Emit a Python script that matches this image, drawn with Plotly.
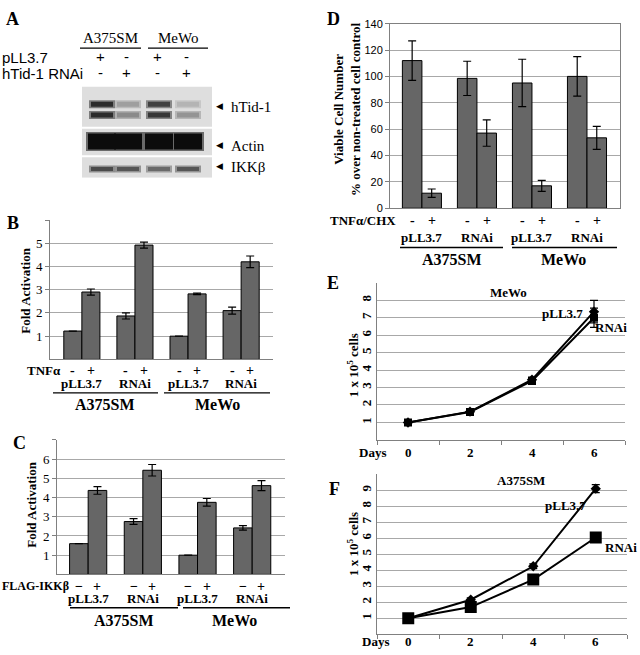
import plotly.graph_objects as go

# =============================================================================
# DATA
# =============================================================================
cell_lines = ["A375SM", "MeWo"]
treatments = ["pLL3.7", "RNAi", "pLL3.7", "RNAi"]
groups = [1, 2, 3, 4]

# panel A: band intensity per lane (0 = none, 1 = black)
blot_lanes = [1, 2, 3, 4]
htid_upper = [0.85, 0.3, 0.75, 0.2]
htid_lower = [0.85, 0.4, 0.8, 0.35]
actin = [1.0, 1.0, 1.0, 1.0]
ikkb = [0.7, 0.65, 0.55, 0.65]
row_pll = ["+", "-", "+", "-"]
row_rnai = ["-", "+", "-", "+"]

# panel B: TNFa fold activation
b_minus = [1.22, 1.87, 1.0, 2.1]
b_minus_err = [0, 0.13, 0, 0.15]
b_plus = [2.9, 4.92, 2.82, 4.2]
b_plus_err = [0.13, 0.13, 0.03, 0.25]

# panel C: FLAG-IKKb fold activation
c_minus = [1.6, 2.75, 1.0, 2.42]
c_minus_err = [0, 0.15, 0, 0.12]
c_plus = [4.37, 5.42, 3.75, 4.62]
c_plus_err = [0.2, 0.3, 0.2, 0.26]

# panel D: viable cells after TNFa/CHX
d_minus = [112, 98.5, 95, 100]
d_minus_err = [15, 13, 18, 15]
d_plus = [11.4, 57, 17, 53.4]
d_plus_err = [3.2, 10, 4.2, 8.7]

# panels E, F: growth curves
days = [0, 2, 4, 6]
e_pll = [1.0, 1.62, 3.45, 7.35]
e_pll_err = [0, 0.12, 0.15, 0.65]
e_rnai = [1.0, 1.6, 3.38, 7.0]
e_rnai_err = [0, 0.1, 0.12, 0.55]
f_pll = [1.0, 2.16, 4.25, 9.1]
f_pll_err = [0, 0.12, 0.15, 0.25]
f_rnai = [1.0, 1.7, 3.42, 6.05]
f_rnai_err = [0, 0.1, 0.12, 0.15]

# =============================================================================
# HELPERS
# =============================================================================
W, H = 640, 655
SERIF = "Liberation Serif"
SANS = "Liberation Sans"
BAR = "#666666"
GRID = "#a8a8a8"


def X(p):
    return p / W


def Y(p):
    return 1 - p / H


def dom_x(a, b):
    return [X(a), X(b)]


def dom_y(top, bottom):
    return [Y(bottom), Y(top)]


annotations = []
shapes = []


def text(t, x, y, size=13, bold=True, family=SERIF, anchor="center", angle=0, xref="paper"):
    annotations.append(dict(
        text=f"<b>{t}</b>" if bold else t,
        x=x if xref != "paper" else X(x), y=Y(y), xref=xref, yref="paper",
        xanchor=anchor, yanchor="middle", showarrow=False, textangle=angle,
        font=dict(family=family, size=size, color="black")))


def hline(x0, x1, y, width=1.3):
    shapes.append(dict(type="line", xref="paper", yref="paper",
                       x0=X(x0), x1=X(x1), y0=Y(y), y1=Y(y),
                       line=dict(color="black", width=width)))


fig = go.Figure()

# =============================================================================
# PANEL A: western blot
# =============================================================================
lane_px = [102, 128, 159, 188]
blot_bg = [(82, 123), (125, 152), (154, 175)]
for top, bottom in blot_bg:
    shapes.append(dict(type="rect", xref="x", yref="y", x0=82, x1=212, y0=top, y1=bottom,
                       fillcolor="#dedede", line=dict(width=0), layer="below"))


def gray(i):
    v = int(round(222 - 210 * i))
    return f"rgb({v},{v},{v})"


bands = [(htid_upper, 100, 5, 13), (htid_lower, 111, 5, 13), (actin, 138, 16, 16), (ikkb, 166, 4, 13)]
for values, yb, thick, half in bands:
    # soft halo first, then the dense core of every lane
    for lane, v in zip(blot_lanes, values):
        cx = lane_px[lane - 1]
        fig.add_trace(go.Scatter(x=[cx - half, cx + half], y=[yb, yb], mode="lines",
                                 line=dict(color=gray(v * 0.55), width=thick + 3),
                                 xaxis="x", yaxis="y", hoverinfo="skip"))
    for lane, v in zip(blot_lanes, values):
        cx = lane_px[lane - 1]
        fig.add_trace(go.Scatter(x=[cx - half + 2, cx + half - 2], y=[yb, yb], mode="lines",
                                 line=dict(color=gray(v), width=thick),
                                 xaxis="x", yaxis="y", hoverinfo="skip"))

text("A375SM", 110, 33, size=15, bold=False)
text("MeWo", 178, 33, size=15, bold=False)
hline(80, 141, 43)
hline(148, 208, 43)
text("pLL3.7", 0, 52, size=15, bold=False, family=SANS, anchor="left")
text("hTid-1 RNAi", 0, 69, size=15, bold=False, family=SANS, anchor="left")
for cx, s1, s2 in zip(lane_px, row_pll, row_rnai):
    text(s1, cx - 2, 51, size=15, bold=False, family=SANS)
    text(s2, cx - 2, 68, size=15, bold=False, family=SANS)
for lab, yy in [("hTid-1", 103), ("Actin", 143), ("IKKβ", 164)]:
    text("◀", 219, yy - 1, size=9, bold=False, family="DejaVu Sans")
    text(lab, 229, yy, size=15, bold=False, anchor="left")

# =============================================================================
# PANELS B, C, D: bar charts
# =============================================================================
def bar_panel(n, minus, minus_err, plus, plus_err, w):
    for vals, errs, off in [(minus, minus_err, -w), (plus, plus_err, 0)]:
        fig.add_trace(go.Bar(
            x=groups, y=vals, width=w, offset=off,
            marker=dict(color=BAR, line=dict(color="black", width=1)),
            error_y=dict(type="data", array=errs, color="black", thickness=1.2, width=4),
            xaxis=f"x{n}", yaxis=f"y{n}", hoverinfo="skip"))


bar_panel(2, b_minus, b_minus_err, b_plus, b_plus_err, 0.34)
bar_panel(3, c_minus, c_minus_err, c_plus, c_plus_err, 0.34)
bar_panel(4, d_minus, d_minus_err, d_plus, d_plus_err, 0.355)


def bar_labels(n, w, sign_y, treat_y, line_y, cell_y, minus_sym, lines, cell_x):
    for g, t in zip(groups, treatments):
        text(minus_sym, g - w / 2, sign_y, size=14, xref=f"x{n}")
        text("+", g + w / 2, sign_y, size=14, xref=f"x{n}")
        text(t, g, treat_y, size=13, xref=f"x{n}")
    for x0, x1 in lines:
        hline(x0, x1, line_y)
    for c, cx in zip(cell_lines, cell_x):
        text(c, cx, cell_y, size=16)


bar_labels(2, 0.34, 371, 385, 394, 406, "-", [(53, 158), (164, 270)], [105, 217])
text("TNFα", 25, 371, size=13, anchor="left")
bar_labels(3, 0.34, 591, 604, 613, 626, "−", [(70, 178), (183, 290)], [124, 234])
text("FLAG-IKKβ", 0, 591, size=12, anchor="left")
bar_labels(4, 0.355, 218, 236, 246, 258, "-", [(400, 503), (512, 617)], [452, 563])
text("TNFα/CHX", 328, 218, size=13, anchor="left")

text("Fold Activation", 26, 290, size=13, angle=-90)
text("Fold Activation", 32, 508, size=13, angle=-90)
text("Viable Cell Number<br>% over non-treated cell control", 347, 105, size=13, angle=-90)

# =============================================================================
# PANELS E, F: growth curves
# =============================================================================
def growth(n, pll, pll_err, rnai, rnai_err, sq, dia, label_y, days_x):
    fig.add_trace(go.Scatter(
        x=days, y=rnai, mode="lines+markers",
        line=dict(color="black", width=2), marker=dict(symbol="square", size=sq, color="black"),
        error_y=dict(type="data", array=rnai_err, color="black", thickness=1.2, width=4),
        xaxis=f"x{n}", yaxis=f"y{n}", hoverinfo="skip"))
    fig.add_trace(go.Scatter(
        x=days, y=pll, mode="lines+markers",
        line=dict(color="black", width=2), marker=dict(symbol="diamond", size=dia, color="black"),
        error_y=dict(type="data", array=pll_err, color="black", thickness=1.2, width=4),
        xaxis=f"x{n}", yaxis=f"y{n}", hoverinfo="skip"))
    for d in days:
        text(str(d), d, label_y, size=13, xref=f"x{n}")
    text("Days", days_x, label_y, size=13)


growth(5, e_pll, e_pll_err, e_rnai, e_rnai_err, 8, 8, 455, 372)
growth(6, f_pll, f_pll_err, f_rnai, f_rnai_err, 12, 8, 647, 375)

text("MeWo", 508, 292, size=13)
text("pLL3.7", 562, 313, size=13)
text("RNAi", 611, 328, size=13)
text("A375SM", 521, 483, size=13)
text("pLL3.7", 565, 509, size=13)
text("RNAi", 621, 552, size=13)
text("1 x 10<sup>5</sup> cells", 353, 366, size=13, angle=-90)
text("1 x 10<sup>5</sup> cells", 353, 548, size=13, angle=-90)

# panel letters
for lab, lx, ly in [("A", 12, 13), ("B", 13, 221), ("C", 19, 445),
                    ("D", 333, 13), ("E", 333, 282), ("F", 334, 492)]:
    text(lab, lx, ly, size=18)

# =============================================================================
# LAYOUT
# =============================================================================
def bar_y(top, bottom, rng, vals, labels, family, size, mirror=False):
    return dict(domain=dom_y(top, bottom), range=rng, tickvals=vals, ticktext=labels,
                showgrid=True, gridcolor=GRID, gridwidth=1, zeroline=False,
                showline=True, linecolor="#808080", mirror=mirror,
                ticks="outside", ticklen=4, tickcolor="#808080",
                tickfont=dict(family=family, size=size, color="black"))


def bar_x(n, a, b, rng, mirror=False):
    return dict(domain=dom_x(a, b), range=rng, showline=True, linecolor="#808080",
                mirror=mirror, showgrid=False, zeroline=False, showticklabels=False,
                ticks="", anchor=f"y{n}")


def curve_y(top, bottom, rng, vals, labels):
    return dict(domain=dom_y(top, bottom), range=rng, tickvals=vals, ticktext=labels,
                tickangle=-90, showgrid=True, gridcolor=GRID, gridwidth=1, zeroline=False,
                showline=True, linecolor="#808080", ticks="",
                tickfont=dict(family=SERIF, size=13, color="black", weight="bold"))


def curve_x(n, a, b):
    return dict(domain=dom_x(a, b), range=[-1, 7], tickvals=[-1, 1, 3, 5, 7],
                showticklabels=False, ticks="outside", ticklen=4, tickcolor="#808080",
                showline=True, linecolor="#808080", showgrid=False, zeroline=False,
                anchor=f"y{n}")


fig.update_layout(
    width=W, height=H, margin=dict(l=0, r=0, t=0, b=0),
    paper_bgcolor="white", plot_bgcolor="white", showlegend=False,
    xaxis=dict(domain=dom_x(82, 212), range=[82, 212], visible=False, anchor="y"),
    yaxis=dict(domain=dom_y(82, 175), range=[175, 82], visible=False, anchor="x"),
    xaxis2=bar_x(2, 50, 273, [0.4, 4.6]),
    yaxis2=dict(bar_y(218, 360, [0, 6], [1, 2, 3, 4, 5, 6], ["1", "2", "3", "4", "5", ""], SERIF, 13), anchor="x2"),
    xaxis3=bar_x(3, 57, 285, [0.43, 4.6]),
    yaxis3=dict(bar_y(442, 579, [0, 7], [1, 2, 3, 4, 5, 6, 7], ["1", "2", "3", "4", "5", "6", ""], SERIF, 13), anchor="x3"),
    xaxis4=bar_x(4, 390, 620, [0.42, 4.6], mirror=True),
    yaxis4=dict(bar_y(18, 206, [0, 140], list(range(0, 141, 20)), [str(v) for v in range(0, 141, 20)], SANS, 11, mirror=True), anchor="x4"),
    xaxis5=curve_x(5, 377, 625),
    yaxis5=dict(curve_y(282, 442, [0, 9], list(range(1, 10)), [str(v) for v in range(1, 9)] + [""]), anchor="x5"),
    xaxis6=curve_x(6, 377, 627),
    yaxis6=dict(curve_y(477, 640, [0, 10], list(range(1, 11)), [str(v) for v in range(1, 10)] + [""]), anchor="x6"),
    annotations=annotations, shapes=shapes,
)

# the page body has a default 8px margin; drop it so the figure fills the window
fig.write_html("out.html", config={"displayModeBar": False},
               post_script="document.body.style.margin='0';")
